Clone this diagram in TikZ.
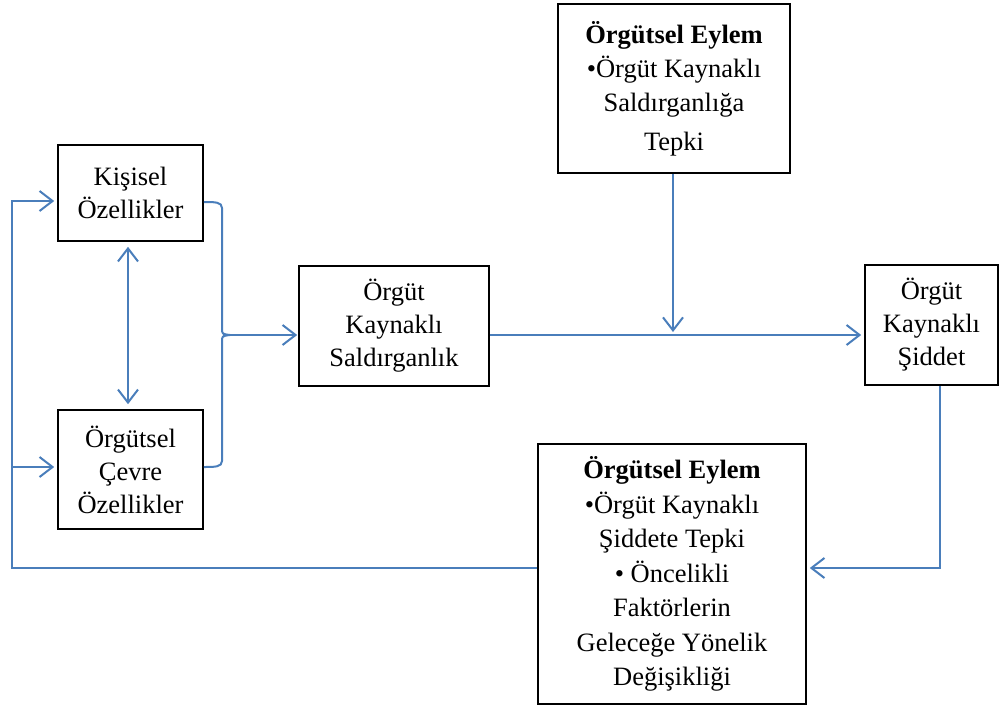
\documentclass[tikz,border=0pt]{standalone}
\usepackage{fontspec}
\setmainfont{Liberation Serif}
\usetikzlibrary{arrows.meta,calc}
\definecolor{conn}{HTML}{4A7EBB}
\begin{document}
\begin{tikzpicture}[x=1pt,y=-1pt,
  box/.style={draw=black,line width=1.6pt,rectangle,inner sep=0pt,align=center,
    font=\fontsize{26.5}{33}\selectfont},
  link/.style={draw=conn,line width=2pt},
  tip/.style={-{Straight Barb[length=13pt,width=20pt,line width=2pt]}},
  dtip/.style={{Straight Barb[length=13pt,width=20pt,line width=2pt]}-{Straight Barb[length=13pt,width=20pt,line width=2pt]}}]
\useasboundingbox (0,0) rectangle (1001,707);
\node[box,minimum width=145pt,minimum height=96pt] (K) at (130.5,193) {Kişisel\\Özellikler};
\node[box,minimum width=145pt,minimum height=119pt] (O) at (130.5,469.5) {Örgütsel\\Çevre\\Özellikler};
\node[box,minimum width=190pt,minimum height=120pt] (S) at (394,326) {Örgüt\\Kaynaklı\\Saldırganlık};
\node[box,minimum width=232pt,minimum height=169pt,font=\fontsize{26.5}{34}\selectfont] (T) at (674,88.5) {\textbf{Örgütsel Eylem}\\•Örgüt Kaynaklı\\Saldırganlığa\\[5pt]Tepki};
\node[box,minimum width=133pt,minimum height=120pt] (V) at (931.5,325) {Örgüt\\Kaynaklı\\Şiddet};
\node[box,minimum width=268pt,minimum height=260pt,font=\fontsize{26.5}{34.5}\selectfont] (E) at (672,574) {\textbf{Örgütsel Eylem}\\•Örgüt Kaynaklı\\Şiddete Tepki\\• Öncelikli\\Faktörlerin\\Geleceğe Yönelik\\Değişikliği};
% brace
\coordinate (bt) at (223,335);
\coordinate (ka) at (12,201);
\coordinate (ly) at (12,568);
\coordinate (rv) at (940,568);
\draw[link] (K.east |- 0,202) .. controls (215,202) and (222,202) .. (222,208) -- (222,328) .. controls (222,334) .. (230,335);
\draw[link] (O.east |- 0,467) .. controls (215,467) and (222,467) .. (222,461) -- (222,342) .. controls (222,336) .. (230,335);
\draw[link,tip,shorten >=1pt] (bt) -- (S.west |- bt);
\draw[link,tip,shorten >=3pt] (S.east |- bt) -- (V.west |- bt);
\draw[link,tip,shorten >=3pt] (T.south -| 673,0) -- (673,335);
\draw[link,dtip,shorten >=5pt,shorten <=5pt] (K.south -| 128,0) -- (O.north -| 128,0);
\draw[link,tip,shorten >=3pt] (E.west |- ly) -- (ly) -- (ka) -- (K.west |- ka);
\draw[link,tip,shorten >=3pt] (ly |- 0,467) -- (O.west |- 0,467);
\draw[link,tip,shorten >=3pt] (rv |- V.south) -- (rv) -- (E.east |- rv);
\end{tikzpicture}
\end{document}
